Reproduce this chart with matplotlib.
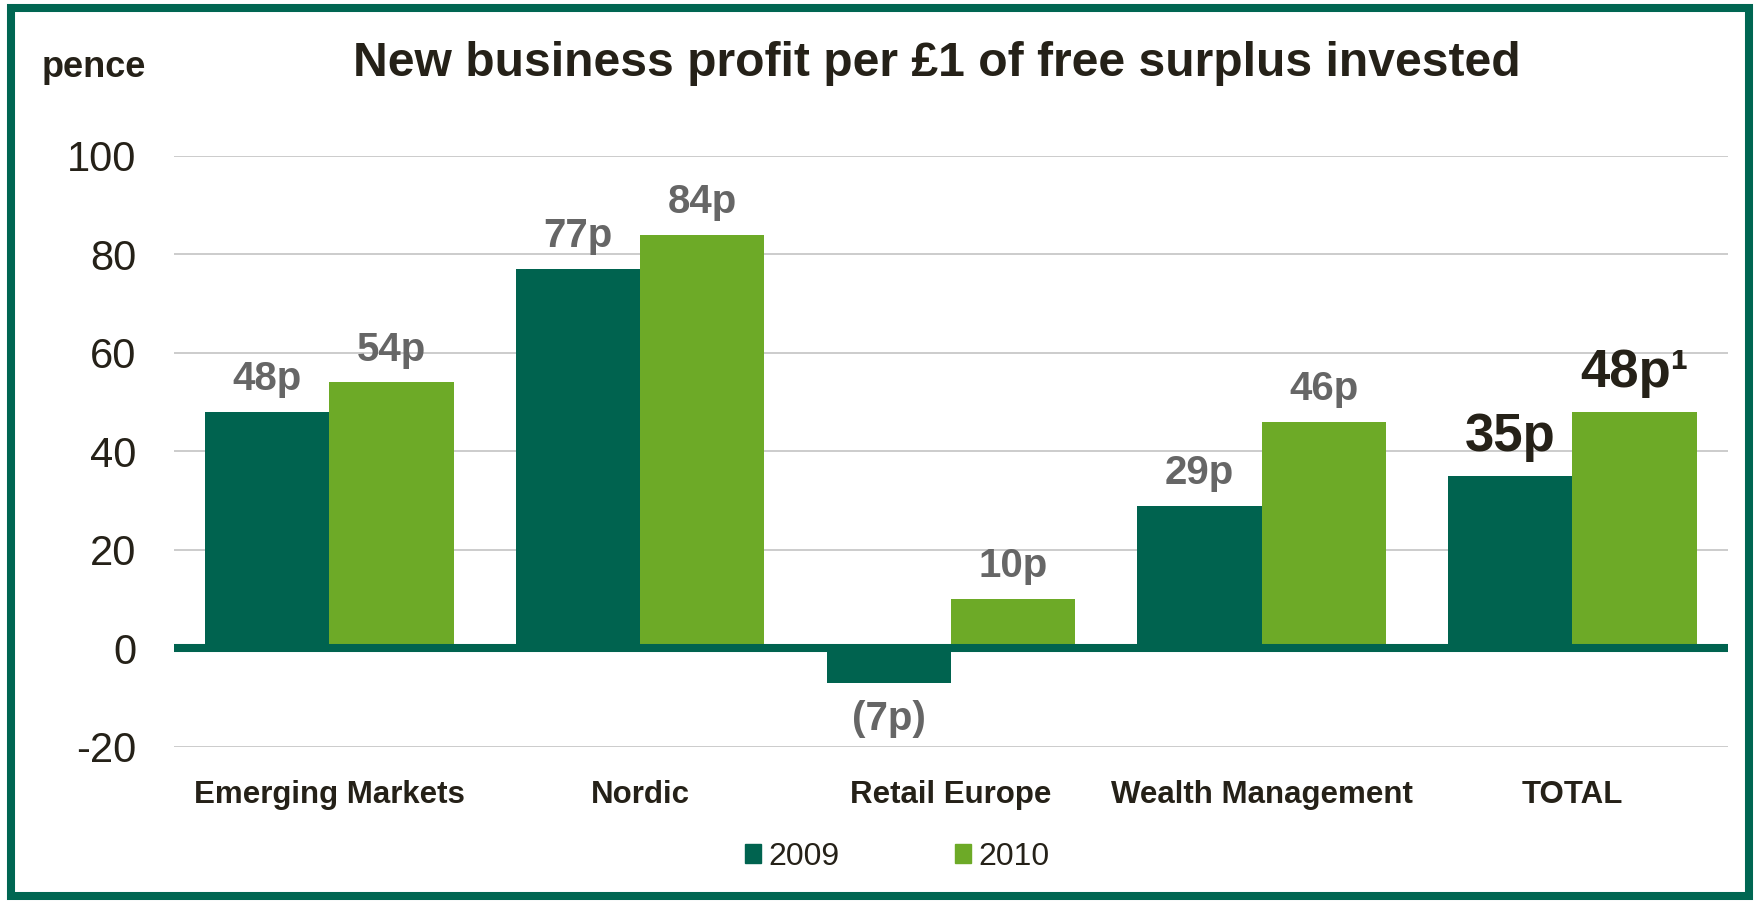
import matplotlib
matplotlib.use("Agg")
import matplotlib.pyplot as plt
from matplotlib.patches import Patch, Rectangle
import numpy as np

plt.rcParams["font.family"] = ["Liberation Sans", "DejaVu Sans"]

categories = ["Emerging Markets", "Nordic", "Retail Europe", "Wealth Management", "TOTAL"]
series_names = ["2009", "2010"]
values_2009 = [48, 77, -7, 29, 35]
values_2010 = [54, 84, 10, 46, 48]
labels_2009 = ["48p", "77p", "(7p)", "29p", "35p"]
labels_2010 = ["54p", "84p", "10p", "46p", "48p\u00b9"]
y_ticks = [-20, 0, 20, 40, 60, 80, 100]

DARK = "#00634F"
LIGHT = "#6DAA27"
TEXT = "#252118"
GREY = "#666666"
BORDER = "#006652"

fig = plt.figure(figsize=(17.54, 9.01), dpi=100)
ax = fig.add_axes([0.0992, 0.171, 0.8858, 0.656])

x = np.arange(len(categories))
w = 0.4
b1 = ax.bar(x - w / 2, values_2009, w, color=DARK, zorder=2)
b2 = ax.bar(x + w / 2, values_2010, w, color=LIGHT, zorder=2)

ax.set_xlim(-0.5, len(categories) - 0.5)
ax.set_ylim(-20, 100)
ax.set_yticks(y_ticks)
ax.set_yticklabels([str(t) for t in y_ticks], fontsize=30, color=TEXT)
ax.set_xticks(x)
ax.set_xticklabels(categories, fontsize=22.5, fontweight="bold", color=TEXT)
ax.tick_params(axis="y", length=0, pad=27)
ax.tick_params(axis="x", length=0, pad=24)
for s in ax.spines.values():
    s.set_visible(False)
ax.grid(axis="y", color="#C8C8C8", lw=1.3, zorder=0)
ax.axhline(0, color=DARK, lw=5.8, zorder=3)

last = len(categories) - 1
for bars, labels in ((b1, labels_2009), (b2, labels_2010)):
    for i, (rect, lab) in enumerate(zip(bars, labels)):
        v = rect.get_height() if rect.get_y() >= 0 else rect.get_y()
        cx = rect.get_x() + rect.get_width() / 2
        big = i == last
        if v >= 0:
            ax.annotate(lab, (cx, v), xytext=(0, 10), textcoords="offset points",
                        ha="center", va="bottom", fontsize=38 if big else 29,
                        fontweight="bold", color=TEXT if big else GREY)
        else:
            ax.annotate(lab, (cx, v), xytext=(0, -12), textcoords="offset points",
                        ha="center", va="top", fontsize=29,
                        fontweight="bold", color=GREY)

fig.text(0.534, 0.930, "New business profit per \u00a31 of free surplus invested",
         ha="center", va="center", fontsize=34.6, fontweight="bold", color=TEXT)
fig.text(0.024, 0.925, "pence", ha="left", va="center", fontsize=26,
         fontweight="bold", color=TEXT)

handles = [Patch(color=DARK, label=series_names[0]), Patch(color=LIGHT, label=series_names[1])]
fig.legend(handles=handles, loc="center", bbox_to_anchor=(0.5115, 0.049), ncol=2,
           frameon=False, fontsize=23, handlelength=0.5, handleheight=0.5,
           handletextpad=0.25, columnspacing=3.6, labelcolor=TEXT)

fig.patches.append(Rectangle((0.00627, 0.00555), 0.99088, 0.98557, transform=fig.transFigure,
                             fill=False, edgecolor=BORDER, lw=5.8, zorder=10))

fig.savefig("out.png", dpi=100)
